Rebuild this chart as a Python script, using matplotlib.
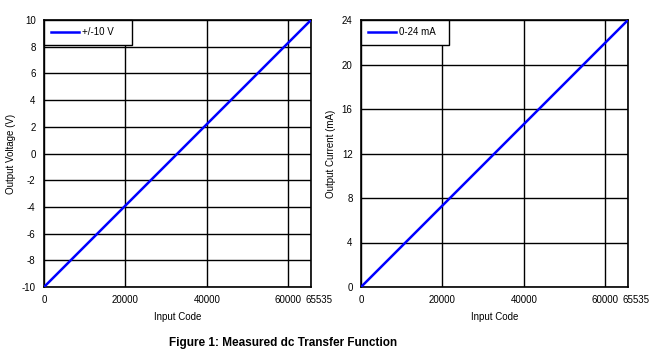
import matplotlib
matplotlib.use("Agg")
import matplotlib.pyplot as plt
from matplotlib.transforms import ScaledTranslation

plt.rcParams['font.family'] = ['Liberation Sans', 'DejaVu Sans']
plt.rcParams['axes.unicode_minus'] = False

# measured transfer function endpoints
codes = [0, 65535]
volts = [-10, 10]
current = [0, 24]

x_ticks = [0, 20000, 40000, 60000, 65535]
v_ticks = [-10, -8, -6, -4, -2, 0, 2, 4, 6, 8, 10]
i_ticks = [0, 4, 8, 12, 16, 20, 24]

fig = plt.figure(figsize=(6.62, 3.62), dpi=100)
ax1 = fig.add_axes([44 / 662, 75 / 362, 267 / 662, 267 / 362])
ax2 = fig.add_axes([361 / 662, 75 / 362, 267 / 662, 267 / 362])


def style(ax, yt, ylabel, leg):
    ax.plot(codes, yt[0], color='#0000ff', lw=1.8, label=leg, zorder=3)
    ax.set_xlim(0, 65535)
    ax.set_ylim(yt[1][0], yt[1][-1])
    ax.set_xticks(x_ticks)
    ax.set_yticks(yt[1])
    ax.tick_params(length=0, labelsize=7, pad=6)
    ax.grid(True, color='black', lw=1.0)
    for s in ax.spines.values():
        s.set_linewidth(1.2)
    # shift the last label (65535) right so it clears 60000
    lbl = ax.get_xticklabels()[-1]
    lbl.set_transform(lbl.get_transform() + ScaledTranslation(8 / 100, 0, fig.dpi_scale_trans))
    ax.set_xlabel("Input Code", fontsize=7, labelpad=5)
    ax.set_ylabel(ylabel, fontsize=7, labelpad=4)
    lg = ax.legend(loc='upper left', bbox_to_anchor=(0, 1, 88 / 267, 0),
                   mode='expand', fontsize=7, fancybox=False, framealpha=1,
                   borderaxespad=0, edgecolor='black', handlelength=2.9,
                   handletextpad=0.3, borderpad=0.75)
    lg.get_frame().set_linewidth(1.0)


style(ax1, (volts, v_ticks), "Output Voltage (V)", "+/-10 V")
style(ax2, (current, i_ticks), "Output Current (mA)", "0-24 mA")

fig.text(283 / 662, 1 - 343 / 362, "Figure 1: Measured dc Transfer Function",
         ha='center', va='center', fontsize=8.5, fontweight='bold')

fig.savefig("out.png", dpi=100)
